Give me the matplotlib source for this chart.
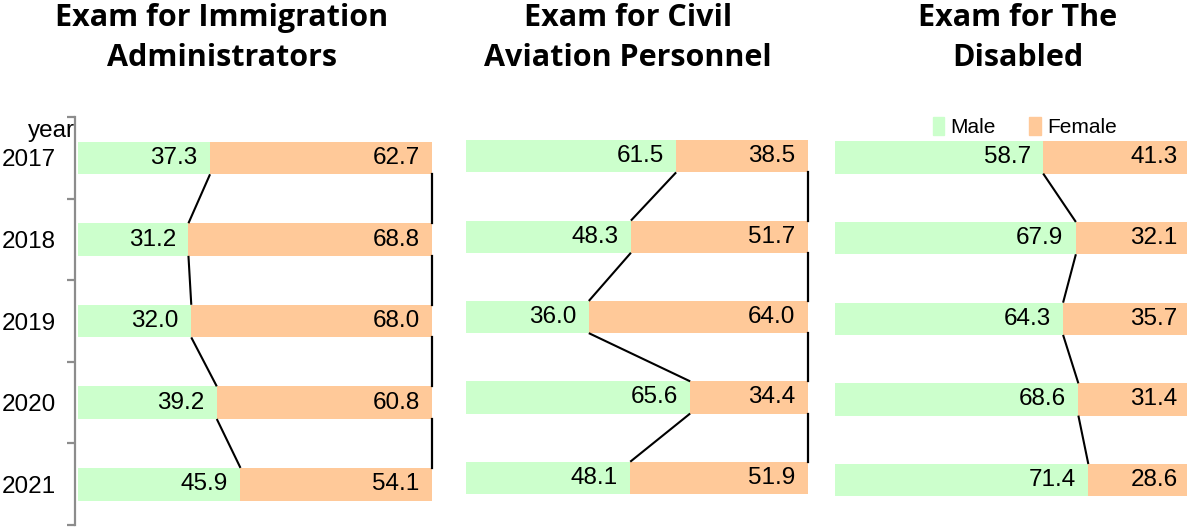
import matplotlib.pyplot as plt
from matplotlib.patches import Patch

# data
years = ['2017', '2018', '2019', '2020', '2021']
titles = ['Exam for Immigration\nAdministrators',
          'Exam for Civil\nAviation Personnel',
          'Exam for The\nDisabled']
male = [
    [37.3, 31.2, 32.0, 39.2, 45.9],
    [61.5, 48.3, 36.0, 65.6, 48.1],
    [58.7, 67.9, 64.3, 68.6, 71.4],
]
female = [
    [62.7, 68.8, 68.0, 60.8, 54.1],
    [38.5, 51.7, 64.0, 34.4, 51.9],
    [41.3, 32.1, 35.7, 31.4, 28.6],
]

GREEN = '#CCFFCC'
ORANGE = '#FFC999'
NARROW = ['Liberation Sans Narrow', 'Liberation Sans', 'DejaVu Sans']
W, H = 1187, 528

fig = plt.figure(figsize=(W / 100, H / 100), dpi=100)

# axes boxes in pixels: left, right, top, bottom
boxes = [(78, 432, 117.2, 525), (465.5, 808, 116.1, 518), (834.5, 1190, 117.1, 520.5)]
title_x = [222, 628, 1018]

bh = 0.4
for k, (l, r, t, b) in enumerate(boxes):
    ax = fig.add_axes([l / W, (H - b) / H, (r - l) / W, (b - t) / H])
    y = list(range(len(years)))
    ax.barh(y, male[k], height=bh, color=GREEN, edgecolor='none')
    ax.barh(y, female[k], left=male[k], height=bh, color=ORANGE, edgecolor='none')
    ax.set_xlim(0, 100)
    ax.set_ylim(len(years) - 0.5, -0.5)

    for i in y:
        ax.annotate(f'{male[k][i]:.1f}', (male[k][i], i), xytext=(-9, 0),
                    textcoords='offset points', ha='right', va='center',
                    fontsize=17.5, family=NARROW)
        ax.annotate(f'{female[k][i]:.1f}', (male[k][i] + female[k][i], i), xytext=(-9, 0),
                    textcoords='offset points', ha='right', va='center',
                    fontsize=17.5, family=NARROW)

    # connector lines between consecutive bars
    for i in range(len(years) - 1):
        ax.plot([male[k][i], male[k][i + 1]], [i + bh / 2, i + 1 - bh / 2],
                color='black', lw=1.5, solid_capstyle='butt')
        tot = male[k][i] + female[k][i]
        ax.plot([tot, tot], [i + bh / 2, i + 1 - bh / 2], color='black', lw=1.6,
                clip_on=False)

    for s in ['top', 'right', 'bottom']:
        ax.spines[s].set_visible(False)
    ax.set_xticks([])
    if k == 0:
        ax.spines['left'].set_color('#8c8c8c')
        ax.spines['left'].set_linewidth(1.6)
        ax.spines['left'].set_position(('outward', 2))
        ax.set_yticks(y)
        ax.set_yticklabels(years, fontsize=17.5, family=NARROW)
        ax.set_yticks([i - 0.5 for i in range(len(years) + 1)], minor=True)
        ax.tick_params(axis='y', which='major', length=0, pad=14)
        ax.tick_params(axis='y', which='minor', length=6, width=1.6, color='#8c8c8c')
    else:
        ax.spines['left'].set_visible(False)
        ax.set_yticks([])

    if k == 2:
        handles = [Patch(color=GREEN, label='Male'), Patch(color=ORANGE, label='Female')]
        ax.legend(handles=handles, ncol=2, frameon=False, loc='center',
                  bbox_to_anchor=(0.535, 0.975), handlelength=0.55, handleheight=0.9,
                  handletextpad=0.3, columnspacing=1.6, borderaxespad=0,
                  borderpad=0, prop={'family': NARROW, 'size': 15})

    fig.text(title_x[k] / W, 1 - 3 / H, titles[k], ha='center', va='top',
             fontsize=22, fontweight='bold', family='Open Sans', linespacing=1.45)

fig.text(75 / W, 1 - 131 / H, 'year', ha='right', va='center', fontsize=17.5, family=NARROW)

fig.savefig('out.png', dpi=100)
